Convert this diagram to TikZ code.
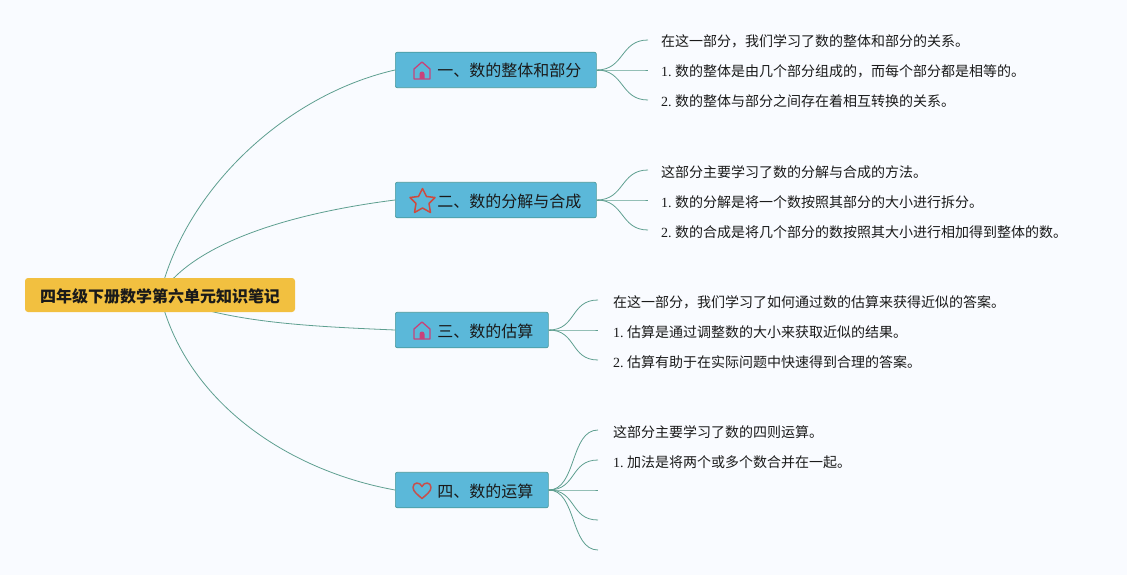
\documentclass[tikz,border=0pt]{standalone}
\usepackage{fontspec}
\usepackage{xcolor}
\usetikzlibrary{backgrounds}
\setmainfont{Liberation Serif}
\newfontfamily\cjk{Noto Sans CJK SC}
\definecolor{notepaper}{HTML}{F9FBFF}
\definecolor{noteink}{HTML}{1A1A1A}
\definecolor{noteline}{HTML}{5E9F90}
\definecolor{notetopic}{HTML}{5BB8D9}
\definecolor{notetopicedge}{HTML}{4A9A9C}
\definecolor{noteroot}{HTML}{F2C040}
\definecolor{notehouse}{HTML}{C8427A}
\definecolor{notestar}{HTML}{CE4A3F}
\definecolor{noteheart}{HTML}{C64F4C}

\tikzset{
  rootbox/.style={fill=noteroot, rounded corners=3pt, minimum width=270pt,
    minimum height=34pt, inner sep=0pt, text height=16pt, text depth=2pt,
    font=\fontsize{16}{19}\selectfont\cjk\bfseries},
  topicbox/.style={draw=notetopicedge, fill=notetopic, line width=0.7pt, rounded corners=2pt,
    anchor=west, minimum height=35.5pt, inner xsep=15pt, inner ysep=0pt,
    text height=16pt, text depth=2pt, font=\fontsize{16}{19}\selectfont},
  leaftext/.style={anchor=west, inner xsep=13pt, inner ysep=0pt,
    text height=16pt, text depth=2pt, font=\fontsize{14}{17}\selectfont},
  branchline/.style={noteline, line width=0.8pt},
  iconhouse/.pic={
    \draw[notehouse, line width=1.3pt, line join=round]
      (-8,9) -- (-8,-1) -- (0,-8) -- (8,-1) -- (8,9) -- cycle;
    \fill[notehouse] (-2.5,9) -- (-2.5,4) arc[start angle=180, end angle=360, radius=2.5] -- (2.5,9) -- cycle;
  },
  iconstar/.pic={
    \draw[notestar, line width=1.5pt, line join=round]
      (0.5,-11.5) -- (4.5,-3.5) -- (13,-2.5) -- (7,3.5) -- (8.5,12.5) -- (0.5,8)
      -- (-7.5,12.5) -- (-6,3.5) -- (-12,-2.5) -- (-3.5,-3.5) -- cycle;
  },
  iconheart/.pic={
    \draw[noteheart, line width=1.5pt, line join=round]
      (0,8.5) .. controls (-4,5) and (-9,1.5) .. (-9,-2.5)
      .. controls (-9,-8) and (-2,-8.5) .. (0,-3.5)
      .. controls (2,-8.5) and (9,-8) .. (9,-2.5)
      .. controls (9,1.5) and (4,5) .. (0,8.5) -- cycle;
  },
}

\begin{document}
\begin{tikzpicture}[x=1pt, y=-1pt, every node/.style={noteink}]

  \useasboundingbox (0,0) rectangle (1127,575);

  %% 中心主题
  \node[rootbox] (root) at (160,295) {四年级下册数学第六单元知识笔记};

  %% 四个分支
  \node[topicbox] (topicA) at (395,70) {\hspace*{27pt}\cjk 一、数的整体和部分};
  \node[topicbox] (topicB) at (395,200) {\hspace*{27pt}\cjk 二、数的分解与合成};
  \node[topicbox] (topicC) at (395,330) {\hspace*{27pt}\cjk 三、数的估算};
  \node[topicbox] (topicD) at (395,490) {\hspace*{27pt}\cjk 四、数的运算};

  \pic[xshift=27pt] at (topicA.west) {iconhouse};
  \pic[xshift=27pt] at (topicB.west) {iconstar};
  \pic[xshift=27pt] at (topicC.west) {iconhouse};
  \pic[xshift=27pt] at (topicD.west) {iconheart};

  %% 第一、二分支的要点
  \node[leaftext] (leafAa) at (648,40) {\cjk 在这一部分，我们学习了数的整体和部分的关系。};
  \node[leaftext] (leafAb) at (648,70) {1.\hspace{3.3pt}{\cjk 数的整体是由几个部分组成的，而每个部分都是相等的。}};
  \node[leaftext] (leafAc) at (648,100) {2.\hspace{3.3pt}{\cjk 数的整体与部分之间存在着相互转换的关系。}};
  \node[leaftext] (leafBa) at (648,170) {\cjk 这部分主要学习了数的分解与合成的方法。};
  \node[leaftext] (leafBb) at (648,200) {1.\hspace{3.3pt}{\cjk 数的分解是将一个数按照其部分的大小进行拆分。}};
  \node[leaftext] (leafBc) at (648,230) {2.\hspace{3.3pt}{\cjk 数的合成是将几个部分的数按照其大小进行相加得到整体的数。}};

  %% 第三、四分支的要点，后三条没有文字
  \node[leaftext, inner xsep=15pt] (leafCa) at (598,300) {\cjk 在这一部分，我们学习了如何通过数的估算来获得近似的答案。};
  \node[leaftext, inner xsep=15pt] (leafCb) at (598,330) {1.\hspace{3.3pt}{\cjk 估算是通过调整数的大小来获取近似的结果。}};
  \node[leaftext, inner xsep=15pt] (leafCc) at (598,360) {2.\hspace{3.3pt}{\cjk 估算有助于在实际问题中快速得到合理的答案。}};
  \node[leaftext, inner xsep=15pt] (leafDa) at (598,430) {\cjk 这部分主要学习了数的四则运算。};
  \node[leaftext, inner xsep=15pt] (leafDb) at (598,460) {1.\hspace{3.3pt}{\cjk 加法是将两个或多个数合并在一起。}};
  \coordinate (leafDc) at (598,490);
  \coordinate (leafDd) at (598,520);
  \coordinate (leafDe) at (598,550);

  \begin{scope}[on background layer]
    \fill[notepaper] (0,0) rectangle (1127,575);

    %% 中心到分支
    \draw[branchline] (root.center) .. controls (185,190) and (285,95) .. (topicA.west);
    \draw[branchline] (root.center) .. controls (195,240) and (300,212) .. (topicB.west);
    \draw[branchline] (root.center) .. controls (225,322) and (300,326) .. (topicC.west);
    \draw[branchline] (root.center) .. controls (185,400) and (285,470) .. (topicD.west);

    %% 分支到要点
    \foreach \sub in {a,b,c} {
      \draw[branchline] (topicA.east) .. controls +(28,0) and ([xshift=-28pt]leafA\sub.west) .. (leafA\sub.west);
      \draw[branchline] (topicB.east) .. controls +(28,0) and ([xshift=-28pt]leafB\sub.west) .. (leafB\sub.west);
      \draw[branchline] (topicC.east) .. controls +(28,0) and ([xshift=-28pt]leafC\sub.west) .. (leafC\sub.west);
    }
    \foreach \sub in {a,b} {
      \draw[branchline] (topicD.east) .. controls +(28,0) and ([xshift=-28pt]leafD\sub.west) .. (leafD\sub.west);
    }
    \foreach \sub in {c,d,e} {
      \draw[branchline] (topicD.east) .. controls +(28,0) and ([xshift=-28pt]leafD\sub) .. (leafD\sub);
    }
  \end{scope}

\end{tikzpicture}
\end{document}
